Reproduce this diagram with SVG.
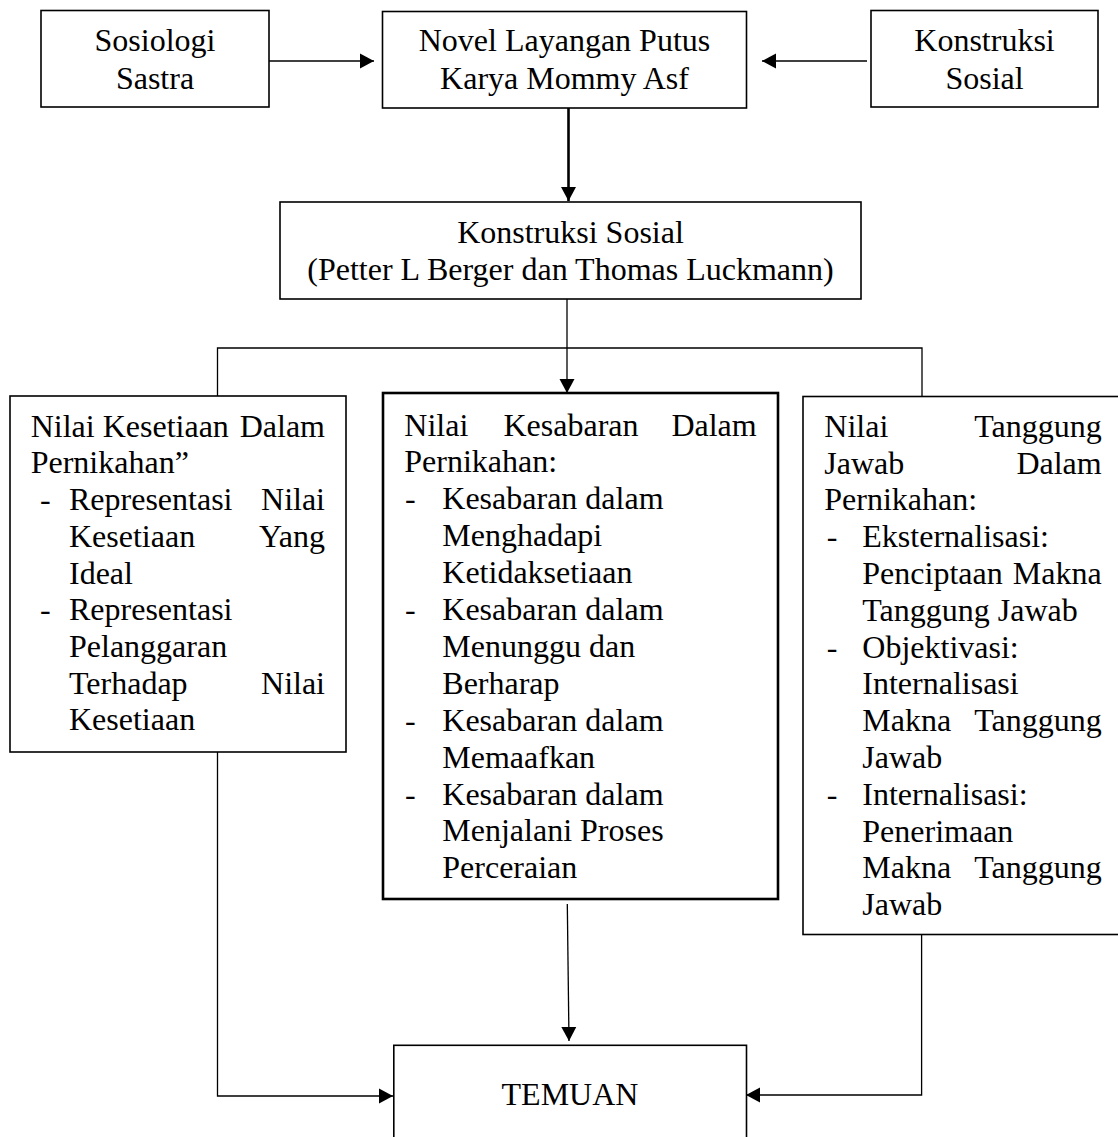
<svg xmlns="http://www.w3.org/2000/svg" width="1118" height="1137" viewBox="0 0 1118 1137">
<style>
text{font-family:"Liberation Serif","Times New Roman",serif;font-size:32px;fill:#000}
.c{text-anchor:middle}
.e{text-anchor:end}
.box{fill:#fff;stroke:#000;stroke-width:1.6}
.thick{stroke-width:2.6}
.ln{fill:none;stroke:#000;stroke-width:1.3}
.ln2{fill:none;stroke:#000;stroke-width:2.6}
</style>
<defs>
<marker id="ah" markerUnits="userSpaceOnUse" markerWidth="15" markerHeight="16" refX="14" refY="8" orient="auto" viewBox="0 0 15 16">
<path d="M0,0.5 L14,8 L0,15.5 z" fill="#000"/>
</marker>
</defs>
<rect width="1118" height="1137" fill="#fff"/>
<g id="connectors">
<line class="ln" x1="269" y1="61" x2="374" y2="61" marker-end="url(#ah)"/>
<line class="ln" x1="867" y1="61" x2="762" y2="61" marker-end="url(#ah)"/>
<line class="ln2" x1="568.5" y1="108" x2="568.5" y2="201" marker-end="url(#ah)"/>
<line class="ln" x1="567" y1="299" x2="567" y2="393" marker-end="url(#ah)"/>
<polyline class="ln" points="217.5,396 217.5,348 922,348 922,396"/>
<polyline class="ln" points="217.5,752 217.5,1096 393,1096" marker-end="url(#ah)"/>
<line class="ln" x1="567.3" y1="904" x2="569" y2="1041" marker-end="url(#ah)"/>
<polyline class="ln" points="921.6,935 921.6,1095 746,1095" marker-end="url(#ah)"/>
</g>
<g id="sosiologi">
<rect class="box" x="41" y="10.5" width="228" height="96.5"/>
<text class="c" x="155" y="51">Sosiologi</text>
<text class="c" x="155" y="88.5">Sastra</text>
</g>
<g id="novel">
<rect class="box" x="382.5" y="11.5" width="364" height="96.5"/>
<text class="c" x="564.5" y="51">Novel Layangan Putus</text>
<text class="c" x="564.5" y="88.5">Karya Mommy Asf</text>
</g>
<g id="konstruksi-top">
<rect class="box" x="871" y="10.5" width="227" height="96.5"/>
<text class="c" x="984.5" y="51">Konstruksi</text>
<text class="c" x="984.5" y="88.5">Sosial</text>
</g>
<g id="konstruksi-mid">
<rect class="box" x="280" y="202" width="581" height="97"/>
<text class="c" x="570.5" y="243">Konstruksi Sosial</text>
<text class="c" x="570.5" y="280">(Petter L Berger dan Thomas Luckmann)</text>
</g>
<g id="kesetiaan">
<rect class="box" x="10" y="396" width="336" height="356"/>
<text x="30.7" y="436.7">Nilai Kesetiaan</text>
<text class="e" x="325" y="436.7">Dalam</text>
<text x="30.7" y="473.4">Pernikahan”</text>
<text x="40" y="510.1">-</text>
<text x="69" y="510.1">Representasi</text>
<text class="e" x="325" y="510.1">Nilai</text>
<text x="69" y="546.8">Kesetiaan</text>
<text class="e" x="325" y="546.8">Yang</text>
<text x="69" y="583.5">Ideal</text>
<text x="40" y="620.2">-</text>
<text x="69" y="620.2">Representasi</text>
<text x="69" y="656.9">Pelanggaran</text>
<text x="69" y="693.6">Terhadap</text>
<text class="e" x="325" y="693.6">Nilai</text>
<text x="69" y="730.3">Kesetiaan</text>
</g>
<g id="kesabaran">
<rect class="box thick" x="383" y="393" width="395" height="506"/>
<text x="404.3" y="435.5">Nilai</text>
<text x="503.5" y="435.5">Kesabaran</text>
<text class="e" x="756.7" y="435.5">Dalam</text>
<text x="404.3" y="472.4">Pernikahan:</text>
<text x="405" y="509.3">-</text>
<text x="442.3" y="509.3">Kesabaran dalam</text>
<text x="442.3" y="546.2">Menghadapi</text>
<text x="442.3" y="583.1">Ketidaksetiaan</text>
<text x="405" y="620">-</text>
<text x="442.3" y="620">Kesabaran dalam</text>
<text x="442.3" y="656.9">Menunggu dan</text>
<text x="442.3" y="693.8">Berharap</text>
<text x="405" y="730.7">-</text>
<text x="442.3" y="730.7">Kesabaran dalam</text>
<text x="442.3" y="767.6">Memaafkan</text>
<text x="405" y="804.5">-</text>
<text x="442.3" y="804.5">Kesabaran dalam</text>
<text x="442.3" y="841.4">Menjalani Proses</text>
<text x="442.3" y="878.3">Perceraian</text>
</g>
<g id="tanggungjawab">
<rect class="box" x="803" y="396.5" width="330" height="538"/>
<text x="824.3" y="436.7">Nilai</text>
<text class="e" x="1101.7" y="436.7">Tanggung</text>
<text x="824.3" y="473.5">Jawab</text>
<text class="e" x="1101.7" y="473.5">Dalam</text>
<text x="824.3" y="510.3">Pernikahan:</text>
<text x="826.7" y="547.1">-</text>
<text x="862.3" y="547.1">Eksternalisasi:</text>
<text x="862.3" y="583.9">Penciptaan</text>
<text class="e" x="1101.7" y="583.9">Makna</text>
<text x="862.3" y="620.7">Tanggung Jawab</text>
<text x="826.7" y="657.5">-</text>
<text x="862.3" y="657.5">Objektivasi:</text>
<text x="862.3" y="694.3">Internalisasi</text>
<text x="862.3" y="731.1">Makna</text>
<text class="e" x="1101.7" y="731.1">Tanggung</text>
<text x="862.3" y="767.9">Jawab</text>
<text x="826.7" y="804.7">-</text>
<text x="862.3" y="804.7">Internalisasi:</text>
<text x="862.3" y="841.5">Penerimaan</text>
<text x="862.3" y="878.3">Makna</text>
<text class="e" x="1101.7" y="878.3">Tanggung</text>
<text x="862.3" y="915.1">Jawab</text>
</g>
<g id="temuan">
<rect class="box" x="393.8" y="1045.3" width="352.7" height="120"/>
<text class="c" x="570" y="1105">TEMUAN</text>
</g>
</svg>
